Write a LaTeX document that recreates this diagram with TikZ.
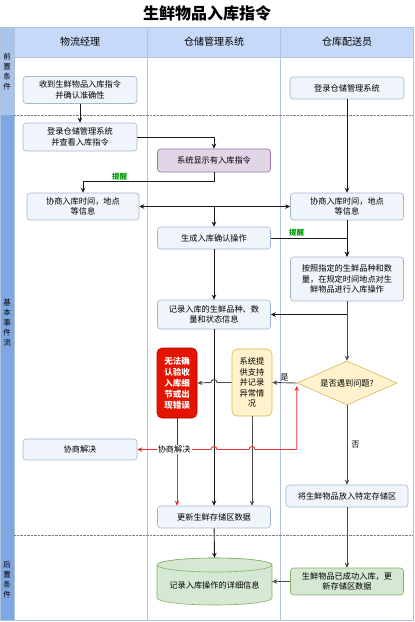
\documentclass[tikz,border=0pt]{standalone}
\usepackage{fontspec}
\setmainfont{Noto Sans CJK SC}
\usetikzlibrary{arrows.meta,shapes.geometric,calc}

\definecolor{boxfill}{HTML}{F0F4FB}
\definecolor{boxline}{HTML}{A3B6D1}
\definecolor{laneline}{HTML}{B0C2DE}
\definecolor{headfill}{HTML}{C6D9F8}
\definecolor{stripA}{HTML}{A9C4EB}
\definecolor{stripB}{HTML}{7EA6E0}
\definecolor{purfill}{HTML}{E1D5E7}
\definecolor{purline}{HTML}{9673A6}
\definecolor{errfill}{HTML}{E51400}
\definecolor{errline}{HTML}{B20000}
\definecolor{yelfill}{HTML}{FFF2CC}
\definecolor{yelline}{HTML}{D6B656}
\definecolor{grnfill}{HTML}{D5E8D4}
\definecolor{grnline}{HTML}{82B366}
\definecolor{remind}{HTML}{009900}
\definecolor{redline}{HTML}{E83030}

\tikzset{
  box/.style={draw=boxline, fill=boxfill, rounded corners=3pt, align=center,
    inner sep=1pt, line width=0.6pt, font=\fontsize{8.2}{10.5}\selectfont},
  purbox/.style={box, draw=purline, fill=purfill},
  errbox/.style={box, draw=errline, fill=errfill, text=white, rounded corners=5pt,
    font=\fontsize{8.5}{11}\selectfont\bfseries},
  supbox/.style={box, draw=yelline, fill=yelfill, rounded corners=5pt},
  grnbox/.style={box, draw=grnline, fill=grnfill},
  decision/.style={diamond, draw=yelline, fill=yelfill, line width=0.6pt, aspect=2.27,
    inner sep=0pt, font=\fontsize{8.2}{10}\selectfont},
  store/.style={fill=grnfill, draw=grnline, line width=0.6pt},
  arr/.style={draw=black!90, line width=0.9pt, -{Stealth[length=5pt,width=4.5pt]}},
  garr/.style={arr, draw=black!70},
  redarr/.style={arr, draw=redline},
  tip/.style={text=remind, font=\fontsize{7.5}{9}\selectfont\bfseries, inner sep=1pt},
  lbl/.style={font=\fontsize{8.2}{10}\selectfont, inner sep=1pt},
  lanehead/.style={font=\fontsize{10}{12}\selectfont},
  stage/.style={align=center, font=\fontsize{7.5}{10}\selectfont}
}

\begin{document}
\begin{tikzpicture}[x=1pt,y=-1pt]
\useasboundingbox (0,0) rectangle (415,622);

% frame and lanes
\fill[stripA] (0,27) rectangle (14,115);
\fill[stripB] (0,115) rectangle (14,620);
\fill[headfill] (14,27) rectangle (413,57);
\draw[laneline, line width=0.8pt] (0,27) rectangle (413,620);
\draw[laneline, line width=0.8pt] (14,27) -- (14,620);
\draw[laneline, line width=0.8pt] (14,57) -- (413,57);
\draw[laneline, line width=1pt] (147,27) -- (147,620);
\draw[laneline, line width=1pt] (280,27) -- (280,620);
\draw[black!50, densely dotted] (14,115) -- (413,115);
\draw[black!50, densely dotted] (14,535) -- (413,535);

\node[font=\fontsize{16}{18}\selectfont\bfseries] (title) at (207,13) {生鲜物品入库指令};
\node[lanehead] (mgr) at (80,42) {物流经理};
\node[lanehead] (wms) at (214,42) {仓储管理系统};
\node[lanehead] (crew) at (347,42) {仓库配送员};
\node[stage] (pre) at (7,72) {前\\置\\条\\件};
\node[stage] (flow) at (7,323) {基\\本\\事\\件\\流};
\node[stage] (post) at (7,580) {后\\置\\条\\件};

% store drum
\path[store] (157,565) -- (157,598) arc[start angle=180, end angle=360, x radius=57.5pt, y radius=7pt]
  -- (272,565) arc[start angle=0, end angle=180, x radius=57.5pt, y radius=7pt] -- cycle;
\draw[store] (214.5,565) ellipse[x radius=57.5pt, y radius=7pt];

% nodes
\node[box, minimum width=114pt, minimum height=27pt] (recv) at (80,90) {收到生鲜物品入库指令\\并确认准确性};
\node[box, minimum width=114pt, minimum height=22pt] (login) at (347,88) {登录仓储管理系统};
\node[box, minimum width=114pt, minimum height=28pt] (view) at (80,137) {登录仓储管理系统\\并查看入库指令};
\node[purbox, minimum width=113pt, minimum height=23pt] (show) at (214,160.5) {系统显示有入库指令};
\node[box, minimum width=112pt, minimum height=27pt] (negA) at (83,206.5) {协商入库时间，地点\\等信息};
\node[box, minimum width=113pt, minimum height=27pt] (negB) at (347,206.5) {协商入库时间，地点\\等信息};
\node[box, minimum width=113pt, minimum height=22pt] (gen) at (214,238) {生成入库确认操作};
\node[box, minimum width=113pt, minimum height=44pt] (oper) at (347,279) {按照指定的生鲜品种和数\\量，在规定时间地点对生\\鲜物品进行入库操作};
\node[box, minimum width=113pt, minimum height=29pt] (rec) at (214,314.5) {记录入库的生鲜品种、数\\量和状态信息};
\node[errbox, minimum width=40pt, minimum height=70pt] (err) at (177,383) {无法确\\认验收\\入库细\\节或出\\现错误};
\node[supbox, minimum width=40pt, minimum height=67pt] (sup) at (252,382.5) {系统提\\供支持\\并记录\\异常情\\况};
\node[decision, minimum width=100pt, minimum height=44pt] (q) at (347,383) {是否遇到问题?};
\node[box, minimum width=114pt, minimum height=21pt] (solve) at (80,449.5) {协商解决};
\node[box, minimum width=122pt, minimum height=22pt] (put) at (347,496) {将生鲜物品放入特定存储区};
\node[box, minimum width=113pt, minimum height=22pt] (upd) at (214,517) {更新生鲜存储区数据};
\node[lbl, minimum width=115pt, minimum height=40pt] (log) at (214.5,585) {记录入库操作的详细信息};
\node[grnbox, minimum width=113pt, minimum height=27pt] (done) at (347,581.5) {生鲜物品已成功入库，更\\新存储区数据};

% connectors
\draw[arr] (recv) -- (view);
\draw[arr] (login) -- (negB);
\draw[arr] (view.east) -| (show.north);
\draw[arr] (show.south) -- ++(0,9) -| node[tip, pos=0.36, above] {提醒} (negA.north);
\draw[arr, {Stealth[length=5pt,width=4.5pt]}-{Stealth[length=5pt,width=4.5pt]}] (negA) -- (negB);
\draw[arr] (negA.east -| gen.north) -- (gen.north);
\draw[arr] (negB) -- (oper);
\draw[arr] (gen.east) -| node[tip, pos=0.17, above] {提醒} (oper.north);
\draw[arr] (gen) -- (rec);
\draw[arr] (oper.south) |- (rec.east);
\draw[garr] (oper) -- (q);
\draw[arr] (rec) -- (upd);
\draw[garr] (q.west) -- node[lbl, above] {是} (sup.east);
\draw[garr] (sup.west) -- ($(rec.south |- sup.west)+(3,0)$)
  arc[start angle=0, end angle=180, radius=3pt] -- (err.east);
\draw[garr] (sup.south) -- (sup.south |- upd.north);
\draw[draw=errline, line width=0.9pt] (err.south) -- (err.south |- solve.east);
\draw[redarr] (err.south |- solve.east) -- (err.south |- upd.north);
\draw[redarr, {Stealth[length=5pt,width=4.5pt]}-{Stealth[length=5pt,width=4.5pt]}]
  (solve.east) -- node[lbl, fill=white] {协商解决} ($(rec.south |- solve.east)+(-3,0)$)
  arc[start angle=180, end angle=0, radius=3pt]
  -- ($(sup.south |- solve.east)+(-3,0)$)
  arc[start angle=180, end angle=0, radius=3pt]
  -- (q.west |- solve.east) -- ($(q.west)+(0,3)$);
\draw[garr] (q.south) -- node[lbl, right=3pt] {否} (put.north);
\draw[garr] (put) -- (done);
\draw[garr] (done.west) -- (done.west -| log.east);
\draw[arr] (upd) -- ($(log.north)+(0,-7)$);
\end{tikzpicture}
\end{document}
